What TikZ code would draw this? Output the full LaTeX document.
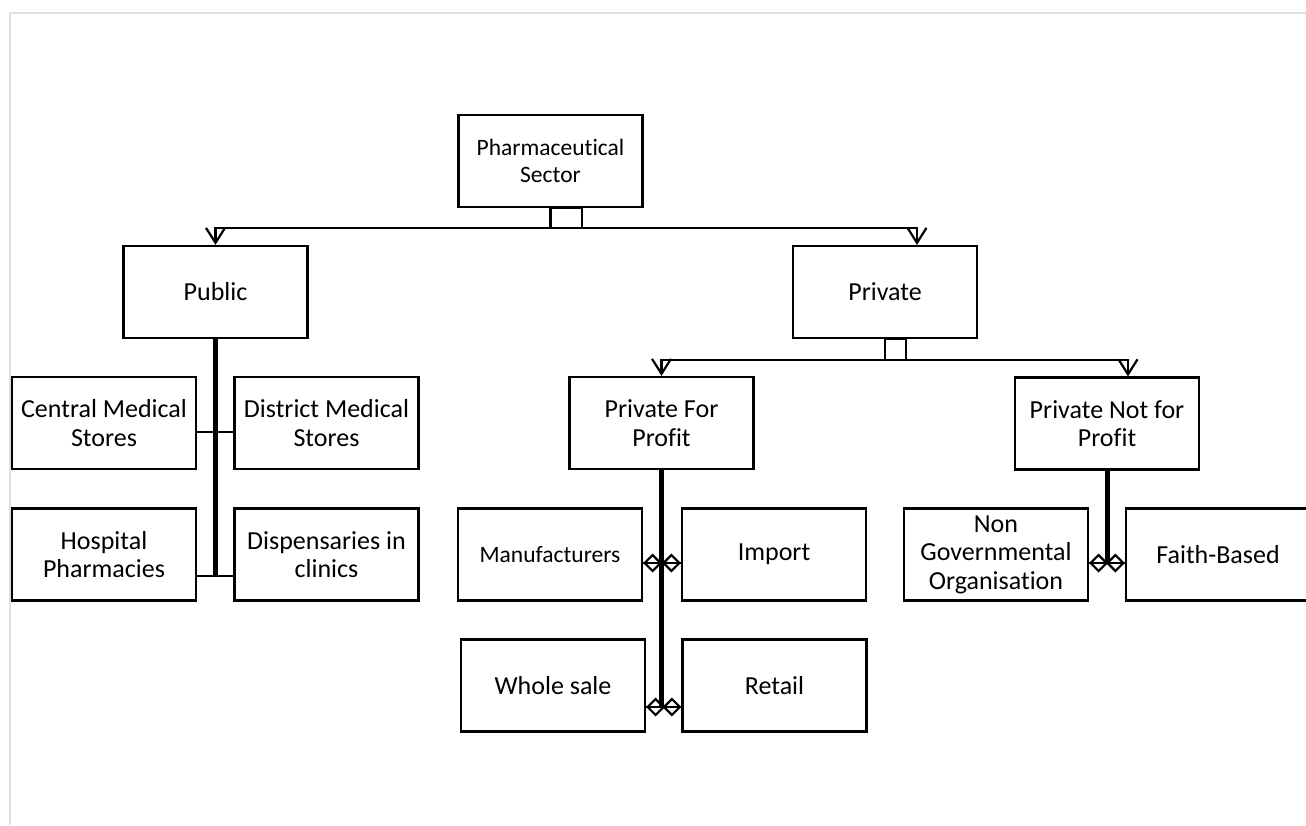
\documentclass[tikz,border=0pt]{standalone}
\usepackage{fontspec}
\setmainfont{Carlito}[Ligatures=NoCommon]
\usetikzlibrary{arrows.meta}
\begin{document}
\begin{tikzpicture}[
      x=1pt, y=-1pt,
      line width=2.2pt,
      box/.style={draw, minimum width=184pt, minimum height=92pt, inner sep=2pt,
        align=center, font=\fontsize{26}{28.5}\selectfont},
      small/.style={font=\fontsize{23.5}{26.7}\selectfont},
      bar/.style={line width=5pt},
      vee/.style={-{Straight Barb[length=15pt,width=19pt]}},
      agg/.style={{Diamond[open,length=19pt,width=19pt]}-{Diamond[open,length=19pt,width=19pt]}}
    ]
    \useasboundingbox (0,0) rectangle (1306,825);
    \draw[line width=1.5pt, black!12] (10,825) -- (10,13) -- (1306,13);
    \node (sector) [box, small] at (550.5,161) {Pharmaceutical\\Sector};
    \node (public) [box] at (215.5,292) {Public};
    \node (private) [box] at (885,292) {Private};
    \node (pfp) [box] at (661.5,423) {Private For\\Profit};
    \node (pnfp) [box] at (1107,423.5) {Private Not for\\Profit};
    \node (cms) [box] at (104,423) {Central Medical\\Stores};
    \node (dms) [box] at (326.5,423) {District Medical\\Stores};
    \node (hosp) [box] at (104,554.5) {Hospital\\Pharmacies};
    \node (disp) [box] at (326.5,554.5) {Dispensaries in\\clinics};
    \node (manu) [box, small] at (550,554.5) {Manufacturers};
    \node (import) [box] at (774,554.5) {Import};
    \node (whole) [box] at (553,685.5) {Whole sale};
    \node (retail) [box] at (774.5,685.5) {Retail};
    \node (ngo) [box] at (996,554.5) {Non\\Governmental\\Organisation};
    \node (faith) [box] at (1218,554.5) {Faith-Based};
    \coordinate (split) at (582,228);
    \coordinate (split2) at (906,360);
    \coordinate (row1) at (0,432);
    \coordinate (row2) at (0,576);
    \coordinate (row3) at (0,563);
    \coordinate (row4) at (0,707);
    \draw (sector.south) rectangle (split);
    \draw[vee] (sector.south |- split) -| (public.north);
    \draw[vee] (split) -| ([xshift=32pt]private.north);
    \draw (private.south) rectangle (split2);
    \draw[vee] (private.south |- split2) -| (pfp.north);
    \draw[vee] (split2) -| ([xshift=21pt]pnfp.north);
    \draw (cms.east |- row1) -- (dms.west |- row1);
    \draw (hosp.east |- row2) -- (disp.west |- row2);
    \draw[bar] (public.south) -- (public.south |- row2);
    \draw (manu.east |- row3) -- (import.west |- row3);
    \draw[agg] (manu.east |- row3) -- (import.west |- row3);
    \draw (whole.east |- row4) -- (retail.west |- row4);
    \draw[agg] (whole.east |- row4) -- (retail.west |- row4);
    \draw (ngo.east |- row3) -- (faith.west |- row3);
    \draw[agg] (ngo.east |- row3) -- (faith.west |- row3);
    \draw[bar] (pfp.south) -- (pfp.south |- row4);
    \draw[bar] (pnfp.south) -- (pnfp.south |- row3);
\end{tikzpicture}
\end{document}
